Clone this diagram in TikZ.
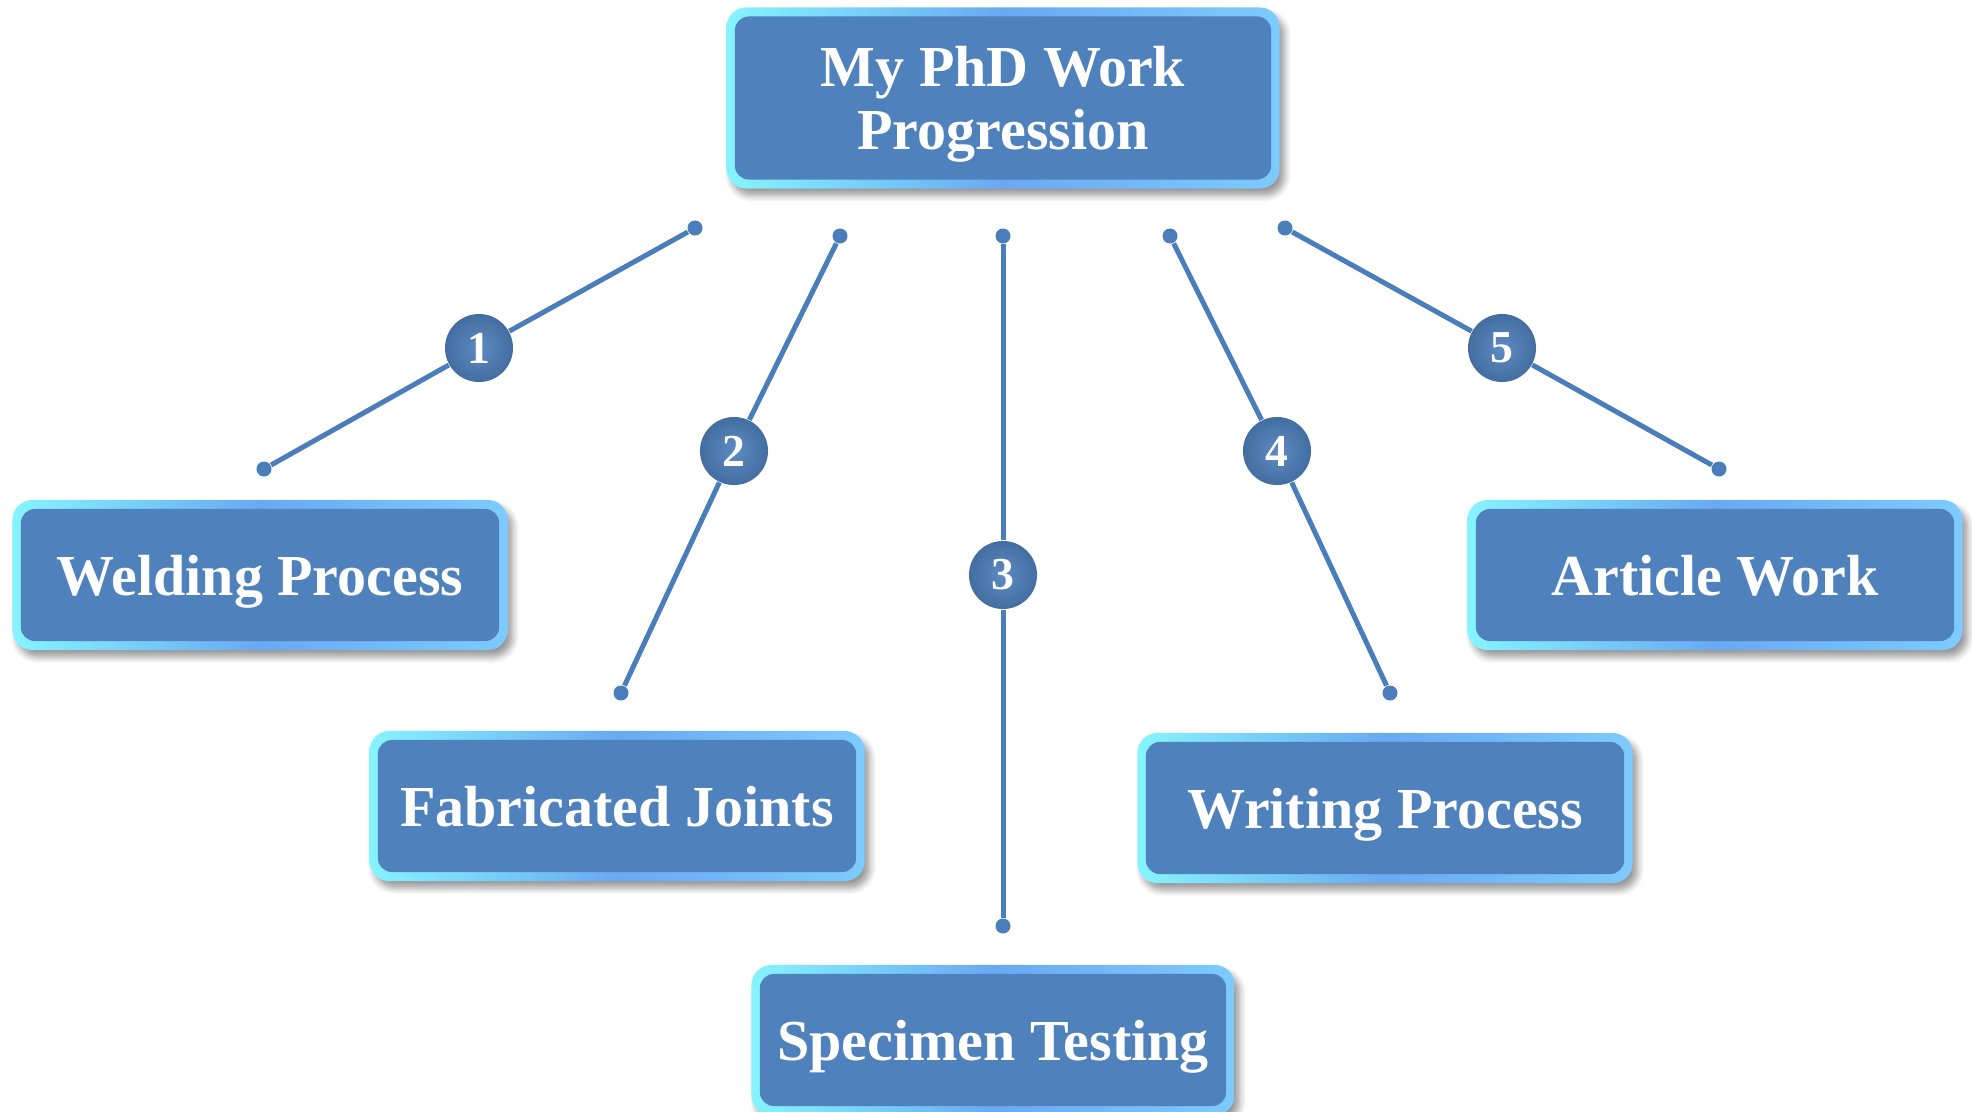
\documentclass[tikz,border=0pt]{standalone}
\usepackage{fontspec}
\setmainfont{Liberation Serif}
\usetikzlibrary{shadows.blur,backgrounds}
\definecolor{boxblue}{HTML}{4F81BD}
\definecolor{edgecyan}{HTML}{86F4FF}
\definecolor{edgeblue}{HTML}{69A9F2}
\definecolor{edgelight}{HTML}{7DCBFF}
\definecolor{linkblue}{HTML}{4A7EBB}

\begin{document}
\begin{tikzpicture}[x=0.01cm,y=-0.01cm,
  box/.style={rounded corners=0.2cm,minimum width=4.95cm,minimum height=1.5cm,align=center,
    text=white,text depth=0pt,font=\fontsize{16.5}{18}\selectfont\bfseries,
    left color=edgecyan,right color=edgelight,middle color=edgeblue,
    blur shadow={shadow xshift=0.05cm,shadow yshift=-0.07cm,shadow opacity=40,shadow blur steps=6},
    path picture={\fill[boxblue,rounded corners=0.14cm]
      ([shift={(0.085cm,-0.09cm)}]path picture bounding box.north west) rectangle
      ([shift={(-0.085cm,0.09cm)}]path picture bounding box.south east);}},
  num/.style={circle,minimum size=0.68cm,inner sep=0pt,text=white,
    font=\fontsize{13}{13}\selectfont\bfseries,inner color=boxblue!92!white,outer color=boxblue!85!black},
  dot/.style={circle,fill=linkblue,minimum size=0.15cm,inner sep=0pt},
  link/.style={linkblue,line width=0.05cm}]
  \useasboundingbox (0,0) rectangle (1972,1112);
  \node[box,minimum width=5.53cm,minimum height=1.81cm] (top) at (1003,98) {My PhD Work\\Progression};
  \node[box] (weld) at (260,575) {Welding Process};
  \node[box] (fab) at (617,806) {Fabricated Joints};
  \node[box,minimum width=4.83cm] (spec) at (993,1040) {Specimen Testing};
  \node[box] (write) at (1385,808) {Writing Process};
  \node[box] (art) at (1715,575) {Article Work};
  \node[dot] (a1) at (264,469) {};
  \node[dot] (b1) at (695,228) {};
  \node[dot] (a2) at (621,693) {};
  \node[dot] (b2) at (840,236) {};
  \node[dot] (a3) at (1003,926) {};
  \node[dot] (b3) at (1003,236) {};
  \node[dot] (a4) at (1390,693) {};
  \node[dot] (b4) at (1170,236) {};
  \node[dot] (a5) at (1719,469) {};
  \node[dot] (b5) at (1285,228) {};
  \node[num] (n1) at (479,348) {1};
  \node[num] (n2) at (734,451) {2};
  \node[num] (n3) at (1003,575) {3};
  \node[num] (n4) at (1277,451) {4};
  \node[num] (n5) at (1502,348) {5};
  \begin{scope}[on background layer]
    \foreach \i in {1,...,5}
      \draw[link] (a\i) -- (n\i) -- (b\i);
  \end{scope}
\end{tikzpicture}
\end{document}
